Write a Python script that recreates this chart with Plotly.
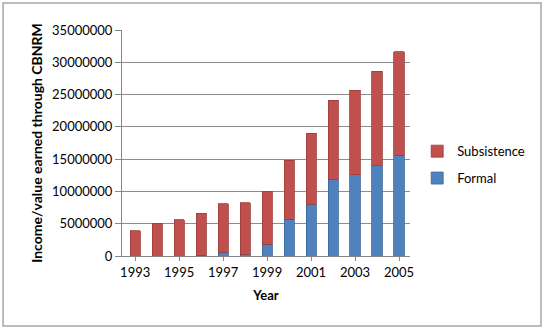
import plotly.graph_objects as go

years = [str(y) for y in range(1993, 2006)]
total = [3900000, 5100000, 5650000, 6600000, 8100000, 8250000, 10000000,
         14800000, 19000000, 24100000, 25700000, 28600000, 31600000]
formal = [0, 0, 0, 100000, 570000, 300000, 1800000,
          5700000, 8000000, 11900000, 12600000, 14000000, 15500000]
subsistence = [t - f for t, f in zip(total, formal)]
tick_years = ["1993", "1995", "1997", "1999", "2001", "2003", "2005"]
y_ticks = list(range(0, 35000001, 5000000))

FONT = "Lato, 'Open Sans', sans-serif"

fig = go.Figure()
fig.add_trace(go.Bar(x=years, y=formal, name="Formal", legendgroup="f",
                     legendrank=2,
                     marker=dict(color="#4F81BD", line=dict(color="#3A6699", width=0.8)),
                     width=0.46))
fig.add_trace(go.Bar(x=years, y=subsistence, name="Subsistence", legendgroup="s",
                     legendrank=1,
                     marker=dict(color="#C0504D", line=dict(color="#9B3D3A", width=0.8)),
                     width=0.46))

fig.update_layout(
    barmode="stack",
    width=545, height=330,
    margin=dict(l=122, r=135, t=30, b=74, autoexpand=False),
    paper_bgcolor="white", plot_bgcolor="white",
    font=dict(family=FONT, size=13, color="#000000"),
    showlegend=True,
    legend=dict(x=1.025, y=0.53, xanchor="left", yanchor="top",
                traceorder="grouped", font=dict(size=13),
                itemwidth=30, tracegroupgap=7, bgcolor="rgba(0,0,0,0)"),
    xaxis=dict(type="category", tickmode="array", tickvals=tick_years,
               ticktext=tick_years, showgrid=False, showline=True,
               linecolor="#868686", ticks="outside", ticklen=4,
               tickcolor="#868686",
               title=dict(text="<b>Year</b>", font=dict(size=13), standoff=12),
               range=[-0.6, 12.5]),
    yaxis=dict(range=[0, 35000000], tickvals=y_ticks,
               ticktext=[str(v) for v in y_ticks],
               showgrid=True, gridcolor="#8C8C8C", gridwidth=1,
               showline=True, linecolor="#868686", ticks="outside",
               ticklen=6, tickcolor="#868686", zeroline=False,
               title=dict(text="<b>Income/value earned through CBNRM</b>",
                          font=dict(size=14), standoff=6)),
    shapes=[dict(type="rect", xref="paper", yref="paper",
                 x0=-0.413, x1=1.455, y0=-0.31, y1=1.12,
                 line=dict(color="#A6A6A6", width=1.5), layer="below")],
)

fig.write_html("out.html")
